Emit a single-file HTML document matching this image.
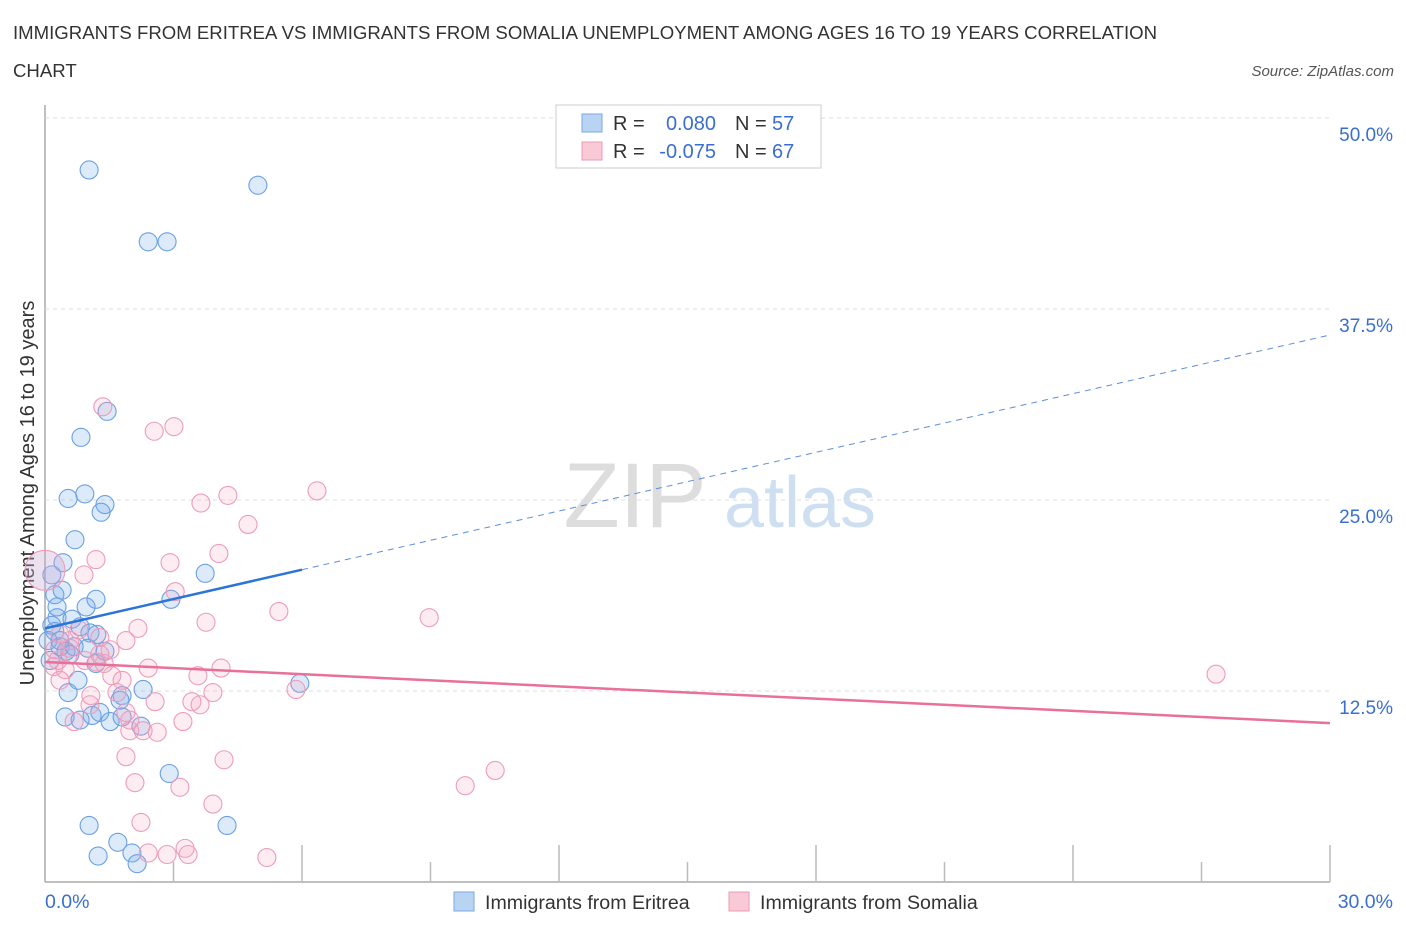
<!DOCTYPE html>
<html><head><meta charset="utf-8"><style>
body{margin:0;background:#fff;font-family:"Liberation Sans",sans-serif;}
svg text{font-family:"Liberation Sans",sans-serif;}
</style></head><body>
<svg id="chart" width="1406" height="930" viewBox="0 0 1406 930">
<text x="13" y="39" font-size="18.6" fill="#333">IMMIGRANTS FROM ERITREA VS IMMIGRANTS FROM SOMALIA UNEMPLOYMENT AMONG AGES 16 TO 19 YEARS CORRELATION</text>
<text x="13" y="77" font-size="18.6" fill="#333">CHART</text>
<text x="1394" y="76" font-size="15" fill="#555" font-style="italic" text-anchor="end">Source: ZipAtlas.com</text>
<text x="635" y="527" font-size="92" fill="#ddd" font-family="Liberation Serif" text-anchor="middle">ZIP</text>
<text x="800" y="527" font-size="72" fill="#cfdff2" text-anchor="middle">atlas</text>
<text transform="translate(34,493) rotate(-90)" font-size="20" fill="#333" text-anchor="middle">Unemployment Among Ages 16 to 19 years</text>
<g id="grid"></g><g id="ticks"></g><g id="pts"></g><g id="lines"></g>
<g>
<rect x="556" y="105" width="265" height="63" fill="#fff" stroke="#ccc"/>
<rect x="582" y="114" width="20" height="18" fill="#b9d3f3" stroke="#7aaae6"/>
<rect x="582" y="142" width="20" height="18" fill="#f9c9d8" stroke="#ee9ab5"/>
<text x="613" y="130" font-size="20" fill="#333">R =</text>
<text x="716" y="130" font-size="20" fill="#3a6fd0" text-anchor="end">0.080</text>
<text x="735" y="130" font-size="20" fill="#333">N =</text>
<text x="772" y="130" font-size="20" fill="#3a6fd0">57</text>
<text x="613" y="158" font-size="20" fill="#333">R =</text>
<text x="716" y="158" font-size="20" fill="#3a6fd0" text-anchor="end">-0.075</text>
<text x="735" y="158" font-size="20" fill="#333">N =</text>
<text x="772" y="158" font-size="20" fill="#3a6fd0">67</text>
</g>
<g>
<rect x="454" y="892" width="20" height="19" fill="#b9d3f3" stroke="#7aaae6"/>
<text x="485" y="909" font-size="19.6" fill="#333">Immigrants from Eritrea</text>
<rect x="729" y="892" width="20" height="19" fill="#f9c9d8" stroke="#ee9ab5"/>
<text x="760" y="909" font-size="19.6" fill="#333">Immigrants from Somalia</text>
</g>
</svg>
<script>
const yTicks=[12.5,25,37.5,50];
const yTickLabels=["12.5%","25.0%","37.5%","50.0%"];
const xTickLabels=["0.0%","30.0%"];
const eritreaX=[1.03,4.97,2.41,2.85,1.45,0.84,0.54,0.93,1.40,1.31,0.70,0.42,0.16,3.74,0.23,1.19,2.94,0.96,0.28,0.63,0.16,0.82,1.05,1.21,0.23,0.35,0.68,0.49,1.00,0.58,1.19,0.77,0.54,1.80,2.29,5.95,0.47,1.10,1.28,1.52,1.80,2.24,2.90,4.25,1.03,1.24,1.70,2.03,2.15,0.28,0.12,0.07,0.35,1.40,0.40,0.82,1.75];
const eritreaY=[46.6,45.6,41.9,41.9,30.8,29.1,25.1,25.4,24.7,24.2,22.4,20.9,20.1,20.2,18.8,18.5,18.5,18.0,17.3,17.2,16.8,16.7,16.3,16.2,16.4,15.4,15.4,15.1,15.3,14.9,14.3,13.2,12.4,12.2,12.6,13.0,10.8,10.9,11.1,10.5,10.8,10.2,7.1,3.7,3.7,1.7,2.6,1.9,1.2,18.0,14.5,15.8,15.8,15.1,19.1,10.6,11.9];
const somaliaX=[1.35,2.55,3.01,6.35,4.27,3.64,4.74,4.06,1.19,2.92,0.91,3.04,5.46,8.97,3.76,2.17,0.79,1.89,1.28,1.52,0.35,0.58,0.30,0.21,0.93,1.21,0.47,2.41,4.11,1.38,1.80,3.57,1.56,2.57,3.92,1.68,1.07,5.86,3.43,3.62,3.22,1.89,0.68,1.98,2.29,2.62,27.34,4.18,1.89,2.10,3.15,3.92,9.81,10.51,2.24,2.41,3.27,3.34,2.85,5.18,0.23,0.58,1.28,1.98,1.05,0.35,0];
const somaliaY=[31.1,29.5,29.8,25.6,25.3,24.8,23.4,21.5,21.1,20.9,20.1,19.0,17.7,17.3,17.0,16.6,16.5,15.8,16.0,15.2,16.2,15.8,14.5,14.1,14.5,14.4,13.9,14.0,14.0,14.3,13.2,13.5,13.5,11.8,12.4,12.4,12.2,12.6,11.8,11.6,10.5,11.1,10.5,9.9,9.9,9.8,13.6,8.0,8.2,6.5,6.2,5.1,6.3,7.3,3.9,1.9,2.2,1.8,1.8,1.6,15.2,15.3,14.9,10.6,11.6,13.2,20.4];
const eritreaTrend=[16.6,35.8];
const eritreaSolidEnd=6.0;
const somaliaTrend=[14.4,10.4];
const X0=45,X1=1330,Y0=882,PX=15.28;
const sx=v=>X0+v/30*(X1-X0), sy=v=>Y0-v*PX;
const NS="http://www.w3.org/2000/svg";
function mk(tag,attrs,parent){const e=document.createElementNS(NS,tag);for(const k in attrs)e.setAttribute(k,attrs[k]);document.getElementById(parent).appendChild(e);return e;}
let a=mk('line',{x1:X0,y1:105,x2:X0,y2:Y0,stroke:'#aaa','stroke-width':1.5},'grid');


a=mk('line',{x1:X0,y1:Y0,x2:X1,y2:Y0,stroke:'#aaa','stroke-width':1.5},'grid');


yTicks.forEach((t,i)=>{
 const g=mk('line',{x1:X0,y1:sy(t),x2:X1,y2:sy(t),stroke:'#ddd','stroke-dasharray':'4,4'},'grid');
 
 
 const l=mk('text',{x:1393,y:sy(t)+23,'font-size':19,fill:'#3a6fd0','text-anchor':'end'},'ticks');
 l.textContent=yTickLabels[i];
 
 
});
for(let i=1;i<=10;i++){const x=X0+i*(X1-X0)/10;
 const t=mk('line',{x1:x,y1:Y0,x2:x,y2:Y0-(i%2?20:37),stroke:'#bbb','stroke-width':1.5},'grid');
 
 }
[[X0,'start',0],[1393,'end',1]].forEach(([x,an,i])=>{const l=mk('text',{x:x,y:908,'font-size':19.5,fill:'#3a6fd0','text-anchor':an},'ticks');l.textContent=xTickLabels[i];
 
 });
eritreaX.forEach((x,i)=>{const c=mk('circle',{cx:sx(x),cy:sy(eritreaY[i]),r:9,fill:'rgba(120,170,235,0.25)',stroke:'#6aa0e2','stroke-width':1.1},'pts');
 
 });
somaliaX.forEach((x,i)=>{const big=i===somaliaX.length-1;const c=mk('circle',{cx:sx(x),cy:sy(somaliaY[i]),r:big?20:9,fill:big?'rgba(200,170,210,0.35)':'rgba(245,160,190,0.2)',stroke:'#ee9cb8','stroke-width':1.1},'pts');
 
 });
const ey=x=>eritreaTrend[0]+(eritreaTrend[1]-eritreaTrend[0])*x/30;
let l=mk('line',{x1:sx(0),y1:sy(ey(0)),x2:sx(eritreaSolidEnd),y2:sy(ey(eritreaSolidEnd)),stroke:'#2b74d8','stroke-width':2.5},'lines');


l=mk('line',{x1:sx(eritreaSolidEnd),y1:sy(ey(eritreaSolidEnd)),x2:sx(30),y2:sy(ey(30)),stroke:'#5b8fd8','stroke-width':1,'stroke-dasharray':'6,5'},'lines');


l=mk('line',{x1:sx(0),y1:sy(somaliaTrend[0]),x2:sx(30),y2:sy(somaliaTrend[1]),stroke:'#e8709a','stroke-width':2.5},'lines');


</script>
</body></html>
